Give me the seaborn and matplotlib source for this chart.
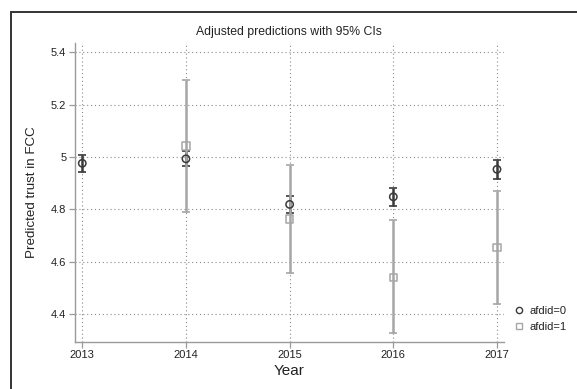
import matplotlib
matplotlib.use("Agg")
import matplotlib.pyplot as plt
import seaborn as sns
import pandas as pd
from matplotlib.patches import Rectangle
from matplotlib.lines import Line2D

sns.set_theme(style="white")
plt.rcParams["font.family"] = ["Liberation Sans", "DejaVu Sans"]

# Predicted trust by year and group, with 95% confidence bounds
years_0 = [2013, 2014, 2015, 2016, 2017]
pred_0 = [4.976, 4.993, 4.819, 4.848, 4.953]
lo_0 = [4.943, 4.966, 4.785, 4.813, 4.915]
hi_0 = [5.008, 5.021, 4.852, 4.880, 4.989]

years_1 = [2014, 2015, 2016, 2017]
pred_1 = [5.042, 4.764, 4.541, 4.654]
lo_1 = [4.791, 4.559, 4.327, 4.439]
hi_1 = [5.294, 4.971, 4.758, 4.869]

y_ticks = [4.4, 4.6, 4.8, 5.0, 5.2, 5.4]
y_tick_labels = ["4.4", "4.6", "4.8", "5", "5.2", "5.4"]
groups = ["afdid=0", "afdid=1"]

df = pd.DataFrame({
    "Year": years_0 + years_1,
    "pred": pred_0 + pred_1,
    "lo": lo_0 + lo_1,
    "hi": hi_0 + hi_1,
    "group": [groups[0]] * len(years_0) + [groups[1]] * len(years_1),
})

dark = "#3a3a3a"
light = "#a6a6a6"
axis_gray = "#9a9a9a"

fig = plt.figure(figsize=(5.77, 3.89), dpi=100)
ax = fig.add_axes([0.1293, 0.1216, 0.8730 - 0.1293, 0.8887 - 0.1216])

# Outer frame of the graph region
fig.patches.append(Rectangle((11 / 577, -0.05), 1.2, (389 - 12) / 389 + 0.05,
                             transform=fig.transFigure, fill=False,
                             edgecolor="#333333", linewidth=1.4, zorder=0))

# Confidence intervals
for grp, col in [(groups[0], dark), (groups[1], light)]:
    sub = df[df["group"] == grp]
    ax.errorbar(sub["Year"], sub["pred"],
                yerr=[sub["pred"] - sub["lo"], sub["hi"] - sub["pred"]],
                fmt="none", ecolor=col, elinewidth=1.8, capsize=3,
                capthick=1.2, zorder=3)

# Point estimates
sns.scatterplot(data=df, x="Year", y="pred", hue="group", style="group",
                markers={groups[0]: "o", groups[1]: "s"},
                palette={groups[0]: dark, groups[1]: light},
                s=28, linewidth=1.1, ax=ax, zorder=4, legend=False)
# hollow markers with coloured edges
for coll in ax.collections:
    fc = coll.get_facecolors()
    if len(fc):
        coll.set_edgecolors(fc)
        coll.set_facecolors("none")

ax.set_xlim(2012.926, 2017.065)
ax.set_ylim(4.295, 5.434)
ax.set_xticks(years_0)
ax.set_xticklabels([str(y) for y in years_0])
ax.set_yticks(y_ticks)
ax.set_yticklabels(y_tick_labels)

ax.grid(True, linestyle=(0, (1, 2.5)), color="#8a8a8a", linewidth=0.8)
ax.set_axisbelow(True)
for side in ["top", "right"]:
    ax.spines[side].set_visible(False)
for side in ["left", "bottom"]:
    ax.spines[side].set_color(axis_gray)
    ax.spines[side].set_linewidth(1.0)
ax.tick_params(axis="both", direction="out", length=4, width=0.9,
               color=axis_gray, labelsize=8, labelcolor="#222222", pad=2,
               left=True, bottom=True)

ax.set_xlabel("Year", fontsize=11, color="#222222", labelpad=3)
ax.set_ylabel("Predicted trust in FCC", fontsize=9.6, color="#222222",
              labelpad=9)
ax.set_title("Adjusted predictions with 95% CIs", fontsize=8.8,
             color="#222222", pad=6)

# Legend to the right of the plot region
handles = [
    Line2D([], [], marker="o", linestyle="none", markerfacecolor="none",
           markeredgecolor=dark, markersize=4.5, markeredgewidth=1.0),
    Line2D([], [], marker="s", linestyle="none", markerfacecolor="none",
           markeredgecolor=light, markersize=4.5, markeredgewidth=1.0),
]
leg = fig.legend(handles, groups, loc="center left",
                 bbox_to_anchor=(0.874, 0.180), frameon=False, fontsize=8,
                 handlelength=0.8, handletextpad=0.6, labelspacing=0.55)
for t in leg.get_texts():
    t.set_color("#222222")

fig.savefig("out.png", dpi=100, facecolor="white")
